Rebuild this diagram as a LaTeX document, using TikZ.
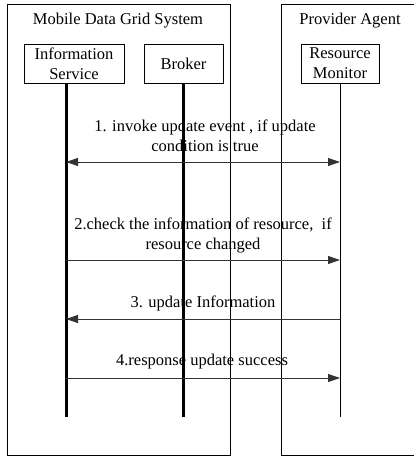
\documentclass[tikz,border=0pt]{standalone}
\usepackage{fontspec}
\setmainfont{Liberation Serif}
\usetikzlibrary{arrows.meta}
\begin{document}
\begin{tikzpicture}[x=1pt,y=-1pt,
  every node/.style={font=\fontsize{16.5}{20}\selectfont},
  frame/.style={draw,line width=1pt},
  objbox/.style={draw,line width=0.8pt,minimum height=39pt,inner sep=0pt,align=center},
  thickline/.style={line width=3pt},
  thinline/.style={line width=1pt},
  msg/.style={line width=0.9pt,draw=black!80,-{Triangle[length=12pt,width=8pt]}},
  lbl/.style={align=center,inner sep=0pt}]
\useasboundingbox (0,0) rectangle (414,457);
\clip (0,0) rectangle (414,457);
% frames
\draw[frame] (7,5) rectangle (230,455);
\draw[frame] (281.5,5) rectangle (430,455);
\node[lbl] (t1) at (118,21) {Mobile Data Grid System};
\node[lbl] (t2) at (350,21) {Provider Agent};
% objects
\node[objbox,minimum width=100pt] (is) at (74,63.5) {Information\\Service};
\node[objbox,minimum width=79pt] (br) at (183.5,63.5) {Broker};
\node[objbox,minimum width=78pt] (rm) at (340,63.5) {Resource\\Monitor};
% lifelines
\coordinate (isE) at (66,417);
\coordinate (brE) at (183,417);
\coordinate (rmE) at (340,417);
\draw[thickline] (is.south -| isE) -- (isE);
\draw[thickline] (br.south -| brE) -- (brE);
\draw[thinline] (rm.south -| rmE) -- (rmE);
% message coordinates
\coordinate (a1) at (66,162); \coordinate (b1) at (340,162);
\coordinate (a2) at (66,260); \coordinate (b2) at (340,260);
\coordinate (a3) at (66,319); \coordinate (b3) at (340,319);
\coordinate (a4) at (66,378); \coordinate (b4) at (340,378);
\draw[msg,{Triangle[length=12pt,width=8pt]}-{Triangle[length=12pt,width=8pt]}] (a1) -- (b1);
\draw[msg] (a2) -- (b2);
\draw[msg] (b3) -- (a3);
\draw[msg] (a4) -- (b4);
% labels
\node[lbl] (l1) at (205,136) {1. invoke update event , if update\\condition is true};
\node[lbl] (l2) at (203,235) {2.check the information of resource,\ \ if\\resource changed};
\node[lbl] (l3) at (203,303) {3. update Information};
\node[lbl] (l4) at (202,362) {4.response update success};
\end{tikzpicture}
\end{document}
